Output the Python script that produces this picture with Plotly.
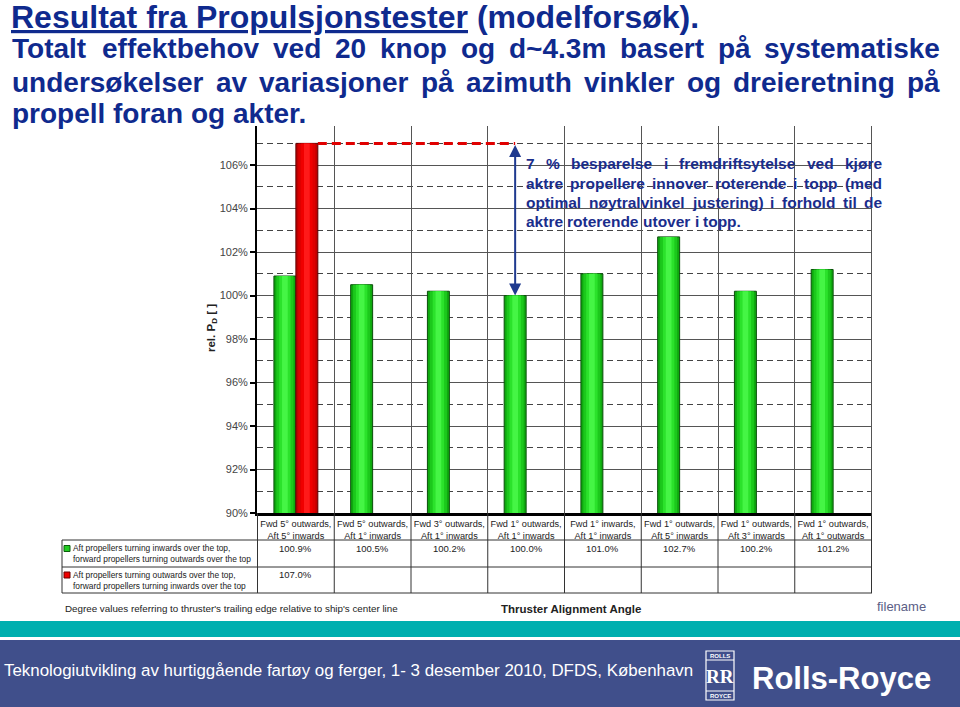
import plotly.graph_objects as go

# ---------------- data ----------------
categories = [
    "Fwd 5° outwards,<br>Aft 5° inwards",
    "Fwd 5° outwards,<br>Aft 1° inwards",
    "Fwd 3° outwards,<br>Aft 1° inwards",
    "Fwd 1° outwards,<br>Aft 1° inwards",
    "Fwd 1° inwards,<br>Aft 1° inwards",
    "Fwd 1° outwards,<br>Aft 5° inwards",
    "Fwd 1° outwards,<br>Aft 3° inwards",
    "Fwd 1° outwards,<br>Aft 1° outwards",
]
inward_vals = [100.9, 100.5, 100.2, 100.0, 101.0, 102.7, 100.2, 101.2]
outward_vals = [107.0, None, None, None, None, None, None, None]
ytick_vals = [90, 92, 94, 96, 98, 100, 102, 104, 106]
ytick_text = ["90%", "92%", "94%", "96%", "98%", "100%", "102%", "104%", "106%"]
legend_labels = [
    "Aft propellers turning inwards over the top,<br>forward propellers turning outwards over the top",
    "Aft propellers turning outwards over the top,<br>forward propellers turning inwards over the top",
]
title_line1 = "<u>Resultat fra Propulsjonstester</u> (modelforsøk)."
title_lines = [
    "Totalt effektbehov ved 20 knop og d~4.3m basert på systematiske",
    "undersøkelser av variasjoner på azimuth vinkler og dreieretning på",
    "propell foran og akter.",
]
note_lines = [
    "7 % besparelse i fremdriftsytelse ved kjøre",
    "aktre propellere innover roterende i topp (med",
    "optimal nøytralvinkel justering) i forhold til de",
    "aktre roterende utover i topp.",
]
footer_text = "Teknologiutvikling av hurtiggående fartøy og ferger, 1- 3 desember 2010, DFDS, København"

# ---------------- layout geometry ----------------
W, H = 960, 707
L, R, T, B = 257, 872, 126, 513
YMIN, YMAX = 90, 107.8
BAR_W = 0.286


def px(x):
    return (x - L) / (R - L)


def py(y):
    return (B - y) / (B - T)


FONT = "Liberation Sans, Arial, sans-serif"
TITLE_BLUE = "#0f2a8e"
NOTE_BLUE = "#1a2d8c"

BOLD_W = {
    'a': 556, 'b': 611, 'c': 556, 'd': 611, 'e': 556, 'f': 333, 'g': 611, 'h': 611,
    'i': 278, 'j': 278, 'k': 556, 'l': 278, 'm': 889, 'n': 611, 'o': 611, 'p': 611,
    'q': 611, 'r': 389, 's': 556, 't': 333, 'u': 611, 'v': 556, 'w': 778, 'x': 556,
    'y': 556, 'z': 500, 'å': 556, 'ø': 611, 'æ': 889, 'T': 611, '~': 584, '.': 278,
    '%': 889, '(': 333, ')': 333, ' ': 278, ',': 278, '-': 333,
}
for d in "0123456789":
    BOLD_W[d] = 556


def tw(s, size):
    return sum(BOLD_W.get(c, 600) for c in s) * size / 1000.0


annotations = []
shapes = []


def word_ann(text, x, y, size, color, weight="bold", xanchor="left"):
    annotations.append(dict(
        text=text, xref="paper", yref="paper", x=px(x), y=py(y),
        xanchor=xanchor, yanchor="middle", showarrow=False,
        borderpad=0, borderwidth=0,
        font=dict(family=FONT, size=size, color=color, weight=weight)))


def justified(line, x0, x1, yc, size, color, justify=True):
    words = line.split()
    widths = [tw(w, size) for w in words]
    if justify and len(words) > 1:
        gap = (x1 - x0 - sum(widths)) / (len(words) - 1)
    else:
        gap = tw(" ", size)
    x = x0
    for w, wd in zip(words, widths):
        word_ann(w, x, yc, size, color)
        x += wd + gap


# ---------------- traces (bars with a stepped gradient) ----------------
fig = go.Figure()
green_layers = [(1.0, "#0fa80f"), (0.78, "#1cc81c"), (0.52, "#2be22b"), (0.26, "#45f545")]
red_layers = [(1.0, "#c00000"), (0.78, "#de0000"), (0.52, "#f00000"), (0.26, "#ff1a1a")]

for k, (f, col) in enumerate(green_layers):
    fig.add_trace(go.Bar(
        x=categories, y=inward_vals, width=BAR_W * f,
        offset=-BAR_W / 2 - BAR_W * f / 2,
        marker=dict(color=col, line=dict(color="#0b4e0b" if k == 0 else col,
                                         width=1 if k == 0 else 0)),
        hoverinfo="skip" if k else None,
    ))
for k, (f, col) in enumerate(red_layers):
    fig.add_trace(go.Bar(
        x=categories, y=outward_vals, width=BAR_W * f,
        offset=BAR_W / 2 - BAR_W * f / 2,
        marker=dict(color=col, line=dict(color="#5a0000" if k == 0 else col,
                                         width=1 if k == 0 else 0)),
        hoverinfo="skip" if k else None,
    ))

# ---------------- titles ----------------
word_ann(title_line1, 11, 17, 32, TITLE_BLUE, weight="bold")
justified(title_lines[0], 12, 940, 49, 28, TITLE_BLUE)
justified(title_lines[1], 12, 940, 82, 28, TITLE_BLUE)
justified(title_lines[2], 12, 940, 113, 28, TITLE_BLUE, justify=False)

# ---------------- note in plot ----------------
note_y = [163, 183, 202, 221]
for i, line in enumerate(note_lines):
    justified(line, 526, 882, note_y[i], 15.5, NOTE_BLUE, justify=(i < 3))

# arrow between 107 % and 100 %
arrow_x = 3 - BAR_W / 2
annotations.append(dict(
    x=arrow_x, y=inward_vals[3], xref="x", yref="y",
    ax=arrow_x, ay=outward_vals[0], axref="x", ayref="y",
    showarrow=True, arrowhead=2, arrowside="end+start", arrowsize=1.2,
    arrowwidth=2, arrowcolor="#1f3a8f", text=""))

# red dashed reference line at 107 %
shapes.append(dict(type="line", xref="x", yref="y",
                   x0=0 + BAR_W, x1=arrow_x, y0=outward_vals[0], y1=outward_vals[0],
                   line=dict(color="#e00000", width=3, dash="9px,5px"), layer="above"))

# y-axis title
annotations.append(dict(
    text="<b>rel. P<sub>D</sub> [ ]</b>", xref="paper", yref="paper",
    x=px(212), y=py(328), xanchor="center", yanchor="middle",
    textangle=-90, showarrow=False,
    font=dict(family=FONT, size=11.5, color="#222")))

# ---------------- table under the chart ----------------
TBL_LEFT = 62
row_y = [540, 567, 593]
for yy in row_y:
    shapes.append(dict(type="line", xref="paper", yref="paper",
                       x0=px(TBL_LEFT), x1=px(R), y0=py(yy), y1=py(yy),
                       line=dict(color="#333", width=1)))
shapes.append(dict(type="line", xref="paper", yref="paper",
                   x0=px(TBL_LEFT), x1=px(TBL_LEFT), y0=py(540), y1=py(593),
                   line=dict(color="#333", width=1)))
for i in range(len(categories) + 1):
    shapes.append(dict(type="line", xref="x", yref="paper",
                       x0=i - 0.5, x1=i - 0.5, y0=py(B), y1=py(593),
                       line=dict(color="#333", width=1)))
# right edge of grid
shapes.append(dict(type="line", xref="x", yref="paper",
                   x0=len(categories) - 0.5, x1=len(categories) - 0.5, y0=0, y1=1,
                   line=dict(color="#555", width=1)))

for i, v in enumerate(inward_vals):
    annotations.append(dict(text=f"{v:.1f}%", x=i, xref="x", y=py(548), yref="paper",
                            xanchor="center", yanchor="middle",
                            showarrow=False, font=dict(family=FONT, size=9.5, color="#222")))
for i, v in enumerate(outward_vals):
    if v is not None:
        annotations.append(dict(text=f"{v:.1f}%", x=i, xref="x", y=py(574), yref="paper",
                                xanchor="center", yanchor="middle",
                                showarrow=False, font=dict(family=FONT, size=9.5, color="#222")))

leg_colors = [("#22cc22", "#0b5e0b"), ("#ee0000", "#6a0000")]
for k, (lab, yy) in enumerate(zip(legend_labels, [553.5, 580])):
    c, lc = leg_colors[k]
    shapes.append(dict(type="rect", xref="paper", yref="paper",
                       x0=px(64), x1=px(70), y0=py(yy - 8), y1=py(yy - 2),
                       fillcolor=c, line=dict(color=lc, width=1)))
    annotations.append(dict(text=lab, xref="paper", yref="paper", x=px(71), y=py(yy),
                            xanchor="left", yanchor="middle", align="left", showarrow=False,
                            font=dict(family=FONT, size=8.4, color="#222")))

word_ann("Degree values referring to thruster's trailing edge relative to ship's center line",
         65, 608, 9.8, "#222", weight="normal")
word_ann("Thruster Alignment Angle", 501, 608.5, 11.5, "#222", weight="bold")
word_ann("filename", 877, 606, 13, "#5b5e86", weight="normal")

# ---------------- footer ----------------
shapes.append(dict(type="rect", xref="paper", yref="paper",
                   x0=px(-2), x1=px(W + 2), y0=py(621), y1=py(637),
                   fillcolor="#00afaf", line=dict(width=0), layer="below"))
shapes.append(dict(type="rect", xref="paper", yref="paper",
                   x0=px(-2), x1=px(W + 2), y0=py(640), y1=py(H + 2),
                   fillcolor="#404f8b", line=dict(width=0), layer="below"))
word_ann(footer_text, 4, 670, 16.9, "white", weight="normal")

# Rolls-Royce badge
shapes.append(dict(type="rect", xref="paper", yref="paper",
                   x0=px(706), x1=px(734), y0=py(700), y1=py(651),
                   fillcolor="rgba(0,0,0,0)", line=dict(color="white", width=1.2)))
shapes.append(dict(type="line", xref="paper", yref="paper",
                   x0=px(706), x1=px(734), y0=py(660), y1=py(660),
                   line=dict(color="white", width=1)))
shapes.append(dict(type="line", xref="paper", yref="paper",
                   x0=px(706), x1=px(734), y0=py(691), y1=py(691),
                   line=dict(color="white", width=1)))
word_ann("ROLLS", 720, 655.5, 6, "white", weight="bold", xanchor="center")
word_ann("ROYCE", 720, 695.5, 6, "white", weight="bold", xanchor="center")
annotations.append(dict(text="<b>RR</b>", xref="paper", yref="paper", x=px(720), y=py(676),
                        xanchor="center", yanchor="middle", showarrow=False,
                        font=dict(family="Liberation Serif, serif", size=19, color="white")))
word_ann("Rolls-Royce", 841, 678, 31, "white", weight="bold", xanchor="center")

# ---------------- layout ----------------
fig.update_layout(
    width=W, height=H,
    margin=dict(l=L, r=W - R, t=T, b=H - B, pad=0),
    paper_bgcolor="white", plot_bgcolor="white",
    barmode="overlay",
    showlegend=False,
    font=dict(family=FONT),
    annotations=annotations, shapes=shapes,
    xaxis=dict(
        type="category", tickson="boundaries", showgrid=True,
        gridcolor="#555", gridwidth=1,
        showline=True, linecolor="black", linewidth=2.5,
        ticks="", tickangle=0, tickfont=dict(family=FONT, size=9.2, color="#222"),
        ticklabelstandoff=0, zeroline=False,
    ),
    yaxis=dict(
        range=[YMIN, YMAX], tickmode="array", tickvals=ytick_vals, ticktext=ytick_text,
        ticks="outside", ticklen=5, tickwidth=2, tickcolor="black",
        showline=True, linecolor="black", linewidth=2,
        showgrid=True, gridcolor="#555", gridwidth=1, zeroline=False,
        tickfont=dict(family=FONT, size=11, color="#444"),
        minor=dict(tick0=90, dtick=1, showgrid=True, gridcolor="#444",
                   gridwidth=1, griddash="6px,4px", ticks=""),
    ),
)

fig.write_html("out.html", config={"displayModeBar": False},
               post_script="document.body.style.margin='0';")
